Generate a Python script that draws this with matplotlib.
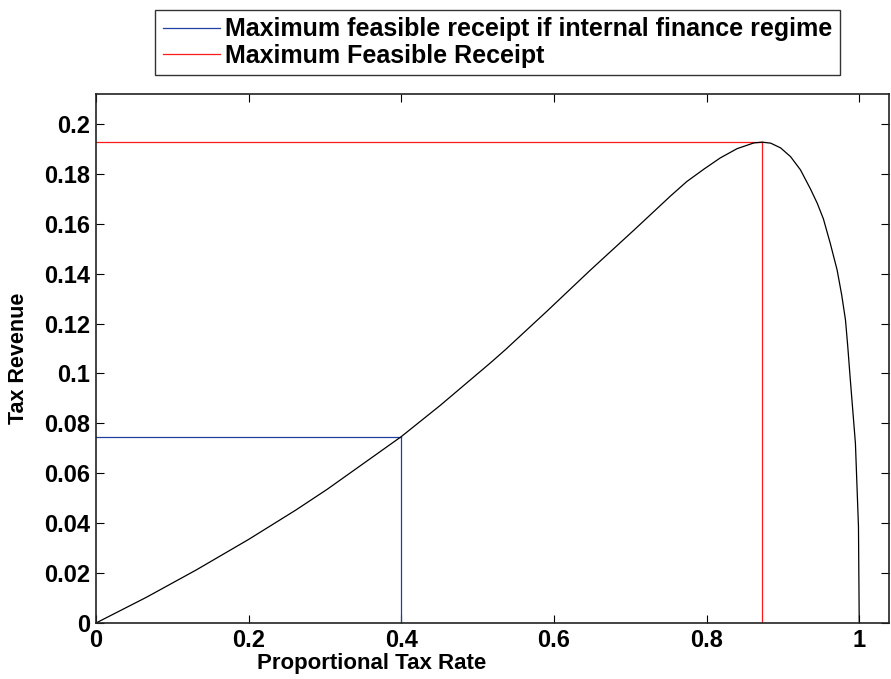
import numpy as np
import matplotlib
matplotlib.use("Agg")
import matplotlib.pyplot as plt

plt.rcParams['font.family'] = ['Liberation Sans', 'DejaVu Sans']
plt.rcParams['font.weight'] = 'bold'

# tax revenue as a function of the proportional tax rate
tax_rate = [0.0, 0.066, 0.131, 0.200, 0.262, 0.303, 0.400, 0.451, 0.517, 0.537,
            0.591, 0.648, 0.705, 0.753, 0.774, 0.797, 0.818, 0.840, 0.862, 0.873,
            0.884, 0.897, 0.910, 0.923, 0.936, 0.945, 0.953, 0.962, 0.971, 0.977,
            0.982, 0.985, 0.988, 0.995, 0.999, 1.0]
revenue = [0.0, 0.0103, 0.0212, 0.0335, 0.0453, 0.0536, 0.0747, 0.0872, 0.1043, 0.1097,
           0.1250, 0.1415, 0.1575, 0.1712, 0.1769, 0.1820, 0.1864, 0.1901, 0.1924, 0.1927,
           0.1923, 0.1904, 0.1869, 0.1816, 0.1740, 0.1682, 0.1620, 0.1522, 0.1415, 0.1315,
           0.1214, 0.1107, 0.0987, 0.0720, 0.0386, 0.0]

# receipts under the internal finance regime and the overall maximum
internal_rate, internal_rev = 0.400, 0.0747
max_rate, max_rev = 0.873, 0.1927

x_ticks = [0, 0.2, 0.4, 0.6, 0.8, 1]
y_ticks = [0, 0.02, 0.04, 0.06, 0.08, 0.1, 0.12, 0.14, 0.16, 0.18, 0.2]
y_tick_labels = ['0', '0.02', '0.04', '0.06', '0.08', '0.1', '0.12', '0.14', '0.16', '0.18', '0.2']

fig = plt.figure(figsize=(8.91, 6.79), dpi=100)
ax = fig.add_axes([96 / 891, 56 / 679, 793 / 891, 529 / 679])

blue = '#2040a0'
red = '#ff1a1a'
ax.plot([internal_rate, internal_rate], [0, internal_rev], color=blue, lw=0.9,
        label='Maximum feasible receipt if internal finance regime')
ax.plot([0, internal_rate], [internal_rev, internal_rev], color=blue, lw=0.9)
ax.plot([max_rate, max_rate], [0, max_rev], color=red, lw=0.9,
        label='Maximum Feasible Receipt')
ax.plot([0, max_rate], [max_rev, max_rev], color=red, lw=0.9)
ax.plot(tax_rate, revenue, color='black', lw=0.9)

ax.set_xlim(0, 1.039)
ax.set_ylim(0, 0.212)
ax.set_xticks(x_ticks)
ax.set_xticklabels(['0', '0.2', '0.4', '0.6', '0.8', '1'])
ax.set_yticks(y_ticks)
ax.set_yticklabels(y_tick_labels)
ax.tick_params(direction='in', top=True, right=True, length=6, width=0.8,
               labelsize=17, pad=4)
for s in ax.spines.values():
    s.set_linewidth(1.2)
    s.set_color('#222222')

ax.set_xlabel('Proportional Tax Rate', fontsize=16, fontweight='bold')
ax.set_ylabel('Tax Revenue', fontsize=15.5, fontweight='bold')
ax.xaxis.set_label_coords(0.347, -0.056)
ax.yaxis.set_label_coords(-0.084, 0.5)

leg = ax.legend(loc='lower left', bbox_to_anchor=(59 / 793, 1.035), fontsize=18,
                frameon=True, fancybox=False, edgecolor='black', handlelength=2.3,
                handletextpad=0.2, borderpad=0.3, labelspacing=0.1, borderaxespad=0)
leg.get_frame().set_linewidth(1.0)

fig.savefig('out.png', dpi=100)
